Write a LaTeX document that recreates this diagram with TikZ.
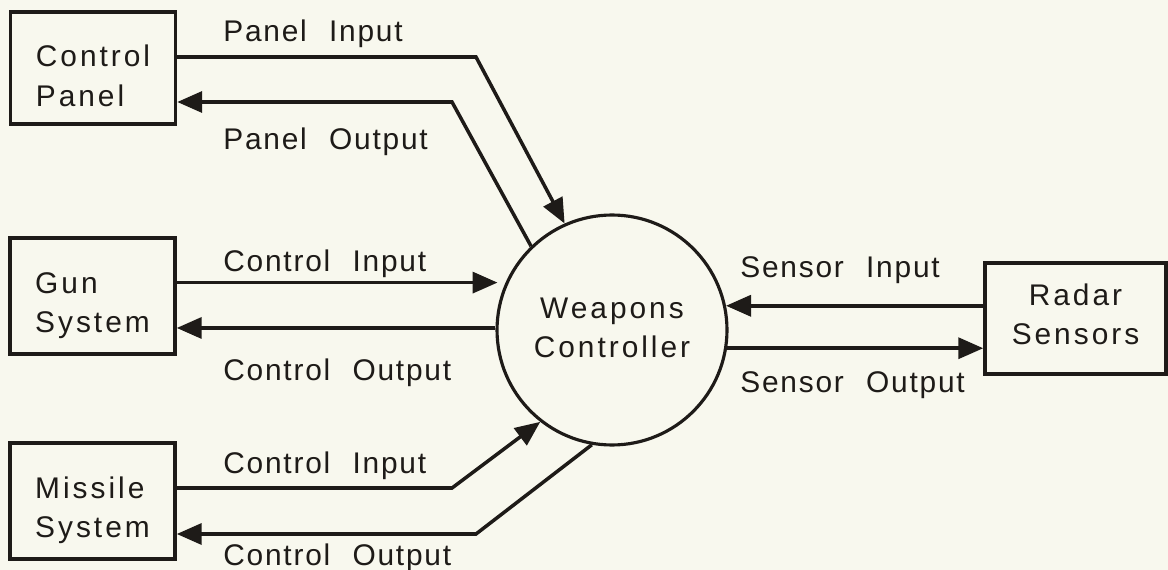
\documentclass[tikz,border=0pt]{standalone}
\usepackage{fontspec}
\setmainfont{Liberation Sans}[LetterSpace=6,WordSpace=2.2]
\newfontfamily\boxfont{Liberation Sans}[LetterSpace=10]
\usetikzlibrary{arrows.meta,positioning}
\definecolor{paper}{RGB}{248,248,238}
\definecolor{ink}{RGB}{30,27,24}

\begin{document}
\begin{tikzpicture}[x=0.02cm,y=-0.02cm,font=\fontsize{17}{22}\selectfont]
\tikzstyle{arc}=[-{Triangle[length=0.5cm,width=0.42cm]},line width=2pt,draw=ink]
\tikzstyle{entity}=[rectangle,draw=ink,line width=2pt,minimum width=3.3cm,minimum height=2.24cm,inner sep=0pt]
\tikzstyle{boxtext}=[align=left,inner sep=0pt,text=ink,font=\boxfont\fontsize{17}{22}\selectfont]
\tikzstyle{process}=[circle,draw=ink,line width=1.8pt,minimum size=4.6cm,inner sep=0pt,align=center,text=ink,font=\boxfont\fontsize{17}{22}\selectfont]
\tikzstyle{flow}=[anchor=base west,inner sep=0pt,text=ink]
\fill[paper] (0,0) rectangle (1168,570);
\useasboundingbox (0,0) rectangle (1168,570);
%% boxes and the controller %%
\node[entity,label={[boxtext,yshift=-0.16cm]center:{Control\\[0.03cm]Panel}}] at (93,68) (B0) {};
\node[entity,minimum height=2.32cm,label={[boxtext,yshift=-0.19cm]center:{Gun\\System}}] at (92.5,296) (B1) {};
\node[entity,minimum height=2.32cm,label={[boxtext,yshift=-0.18cm]center:{Missile\\System}}] at (92.5,501) (B2) {};
\node[entity,minimum width=3.62cm,minimum height=2.22cm,label={[boxtext,align=center,yshift=0.09cm]center:{Radar\\Sensors}}] at (1075.5,318.5) (B3) {};
\node[process] at (612,330) (WC) {\raisebox{0.05cm}{\begin{tabular}{@{}c@{}}Weapons\\Controller\end{tabular}}};
%% flow labels %%
\node[flow] at (223,42) (L0) {Panel Input};
\node[flow] at (223,150) (L1) {Panel Output};
\node[flow] at (223,272) (L2) {Control Input};
\node[flow] at (223,380) (L3) {Control Output};
\node[flow] at (223,473) (L4) {Control Input};
\node[flow] at (223,565) (L5) {Control Output};
\node[flow] at (740,278) (L6) {Sensor Input};
\node[flow] at (740,392) (L7) {Sensor Output};
%% bends %%
\coordinate (K0) at (476,57);
\coordinate (K1) at (452,102);
\coordinate (K2) at (452,488);
\coordinate (K3) at (476,534);
%% flows %%
\draw[arc] (B0.east |- K0) -- (K0) -- (WC.114.6);
\draw[arc] (WC.134) -- (K1) -- (B0.east |- K1);
\draw[arc,shorten >=0.16cm] (B1.east |- WC.156) -- (WC.156);
\draw[arc] (WC.179) -- (B1.east |- WC.179);
\draw[arc] (B2.east |- K2) -- (K2) -- (WC.232.5);
\draw[arc] (WC.260.4) -- (K3) -- (B2.east |- K3);
\draw[arc] (B3.west |- WC.12) -- (WC.12);
\draw[arc] (WC.351) -- (B3.west |- WC.351);
\end{tikzpicture}
\end{document}
